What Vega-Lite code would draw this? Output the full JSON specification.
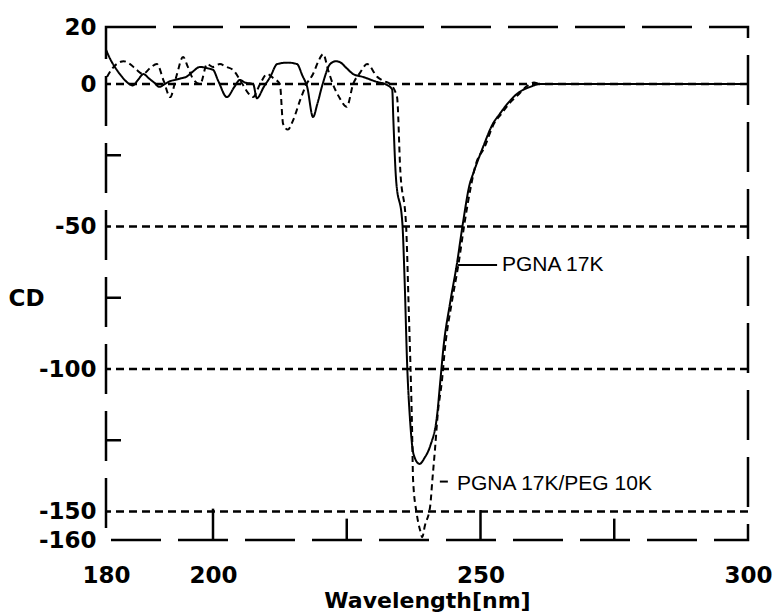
{
  "$schema": "https://vega.github.io/schema/vega-lite/v6.json",
  "width": 642,
  "height": 513,
  "autosize": {"type": "none"},
  "padding": {"left": 106, "top": 27, "right": 25, "bottom": 74},
  "background": "white",
  "config": {
    "view": {"stroke": "black", "strokeWidth": 2.5, "strokeDash": [50, 17]},
    "font": "DejaVu Sans"
  },
  "datasets": {
    "curves": [
      {"wavelength": 180, "cd": 12, "series": "PGNA 17K"},
      {"wavelength": 181, "cd": 8, "series": "PGNA 17K"},
      {"wavelength": 182, "cd": 5, "series": "PGNA 17K"},
      {"wavelength": 183, "cd": 2.5, "series": "PGNA 17K"},
      {"wavelength": 184, "cd": 0.5, "series": "PGNA 17K"},
      {"wavelength": 185, "cd": -0.5, "series": "PGNA 17K"},
      {"wavelength": 186, "cd": 1.5, "series": "PGNA 17K"},
      {"wavelength": 187, "cd": 3.5, "series": "PGNA 17K"},
      {"wavelength": 188, "cd": 2, "series": "PGNA 17K"},
      {"wavelength": 189, "cd": 0.5, "series": "PGNA 17K"},
      {"wavelength": 190, "cd": -1, "series": "PGNA 17K"},
      {"wavelength": 191, "cd": 0, "series": "PGNA 17K"},
      {"wavelength": 192, "cd": 1, "series": "PGNA 17K"},
      {"wavelength": 193, "cd": 1.5, "series": "PGNA 17K"},
      {"wavelength": 194, "cd": 2, "series": "PGNA 17K"},
      {"wavelength": 195, "cd": 2.5, "series": "PGNA 17K"},
      {"wavelength": 196, "cd": 4, "series": "PGNA 17K"},
      {"wavelength": 197.6, "cd": 6, "series": "PGNA 17K"},
      {"wavelength": 199, "cd": 5.5, "series": "PGNA 17K"},
      {"wavelength": 200, "cd": 5, "series": "PGNA 17K"},
      {"wavelength": 201, "cd": 1, "series": "PGNA 17K"},
      {"wavelength": 202.6, "cd": -4.6, "series": "PGNA 17K"},
      {"wavelength": 204, "cd": -1, "series": "PGNA 17K"},
      {"wavelength": 205, "cd": 1.4, "series": "PGNA 17K"},
      {"wavelength": 206, "cd": 0.5, "series": "PGNA 17K"},
      {"wavelength": 207.5, "cd": 0, "series": "PGNA 17K"},
      {"wavelength": 208.2, "cd": -5, "series": "PGNA 17K"},
      {"wavelength": 209.5, "cd": -1, "series": "PGNA 17K"},
      {"wavelength": 210.7, "cd": 2.5, "series": "PGNA 17K"},
      {"wavelength": 212, "cd": 7, "series": "PGNA 17K"},
      {"wavelength": 214, "cd": 7.5, "series": "PGNA 17K"},
      {"wavelength": 215.7, "cd": 7, "series": "PGNA 17K"},
      {"wavelength": 216.7, "cd": 3, "series": "PGNA 17K"},
      {"wavelength": 217.6, "cd": -1, "series": "PGNA 17K"},
      {"wavelength": 218.7, "cd": -11.6, "series": "PGNA 17K"},
      {"wavelength": 219.5, "cd": -7, "series": "PGNA 17K"},
      {"wavelength": 220.5, "cd": 0, "series": "PGNA 17K"},
      {"wavelength": 221.9, "cd": 7, "series": "PGNA 17K"},
      {"wavelength": 223, "cd": 8, "series": "PGNA 17K"},
      {"wavelength": 223.7, "cd": 7.7, "series": "PGNA 17K"},
      {"wavelength": 225, "cd": 5.5, "series": "PGNA 17K"},
      {"wavelength": 226.2, "cd": 3.5, "series": "PGNA 17K"},
      {"wavelength": 228, "cd": 2.5, "series": "PGNA 17K"},
      {"wavelength": 230.7, "cd": 0.7, "series": "PGNA 17K"},
      {"wavelength": 232.5, "cd": -0.3, "series": "PGNA 17K"},
      {"wavelength": 233.5, "cd": -2, "series": "PGNA 17K"},
      {"wavelength": 233.7, "cd": -12, "series": "PGNA 17K"},
      {"wavelength": 234.2, "cd": -33, "series": "PGNA 17K"},
      {"wavelength": 235.4, "cd": -49, "series": "PGNA 17K"},
      {"wavelength": 235.8, "cd": -68, "series": "PGNA 17K"},
      {"wavelength": 236.3, "cd": -99, "series": "PGNA 17K"},
      {"wavelength": 236.8, "cd": -117, "series": "PGNA 17K"},
      {"wavelength": 237.5, "cd": -130, "series": "PGNA 17K"},
      {"wavelength": 238.6, "cd": -133.3, "series": "PGNA 17K"},
      {"wavelength": 239.6, "cd": -131, "series": "PGNA 17K"},
      {"wavelength": 240.6, "cd": -127, "series": "PGNA 17K"},
      {"wavelength": 241.9, "cd": -116, "series": "PGNA 17K"},
      {"wavelength": 242.5, "cd": -104, "series": "PGNA 17K"},
      {"wavelength": 243.1, "cd": -92, "series": "PGNA 17K"},
      {"wavelength": 244.3, "cd": -77, "series": "PGNA 17K"},
      {"wavelength": 245.6, "cd": -63, "series": "PGNA 17K"},
      {"wavelength": 246.7, "cd": -49, "series": "PGNA 17K"},
      {"wavelength": 248, "cd": -35, "series": "PGNA 17K"},
      {"wavelength": 248.6, "cd": -31.6, "series": "PGNA 17K"},
      {"wavelength": 250.5, "cd": -22, "series": "PGNA 17K"},
      {"wavelength": 252.3, "cd": -14, "series": "PGNA 17K"},
      {"wavelength": 253.6, "cd": -10.5, "series": "PGNA 17K"},
      {"wavelength": 255, "cd": -7, "series": "PGNA 17K"},
      {"wavelength": 256.8, "cd": -3.5, "series": "PGNA 17K"},
      {"wavelength": 258, "cd": -2, "series": "PGNA 17K"},
      {"wavelength": 259.3, "cd": -1, "series": "PGNA 17K"},
      {"wavelength": 261, "cd": 0, "series": "PGNA 17K"},
      {"wavelength": 270, "cd": 0, "series": "PGNA 17K"},
      {"wavelength": 280, "cd": 0, "series": "PGNA 17K"},
      {"wavelength": 290, "cd": 0, "series": "PGNA 17K"},
      {"wavelength": 300, "cd": 0, "series": "PGNA 17K"},
      {"wavelength": 180.2, "cd": 2.5, "series": "PGNA 17K/PEG 10K"},
      {"wavelength": 181, "cd": 5, "series": "PGNA 17K/PEG 10K"},
      {"wavelength": 182, "cd": 7, "series": "PGNA 17K/PEG 10K"},
      {"wavelength": 183.3, "cd": 8, "series": "PGNA 17K/PEG 10K"},
      {"wavelength": 184.5, "cd": 7, "series": "PGNA 17K/PEG 10K"},
      {"wavelength": 185.7, "cd": 5, "series": "PGNA 17K/PEG 10K"},
      {"wavelength": 186.9, "cd": 3.5, "series": "PGNA 17K/PEG 10K"},
      {"wavelength": 188.2, "cd": 5.5, "series": "PGNA 17K/PEG 10K"},
      {"wavelength": 189.5, "cd": 7, "series": "PGNA 17K/PEG 10K"},
      {"wavelength": 190.8, "cd": 1, "series": "PGNA 17K/PEG 10K"},
      {"wavelength": 192, "cd": -4.6, "series": "PGNA 17K/PEG 10K"},
      {"wavelength": 193.2, "cd": 3, "series": "PGNA 17K/PEG 10K"},
      {"wavelength": 194.4, "cd": 9.5, "series": "PGNA 17K/PEG 10K"},
      {"wavelength": 195.3, "cd": 6, "series": "PGNA 17K/PEG 10K"},
      {"wavelength": 196.2, "cd": 2, "series": "PGNA 17K/PEG 10K"},
      {"wavelength": 197.6, "cd": 0, "series": "PGNA 17K/PEG 10K"},
      {"wavelength": 198.9, "cd": 7, "series": "PGNA 17K/PEG 10K"},
      {"wavelength": 200, "cd": 6, "series": "PGNA 17K/PEG 10K"},
      {"wavelength": 201.3, "cd": 7, "series": "PGNA 17K/PEG 10K"},
      {"wavelength": 202.5, "cd": 6, "series": "PGNA 17K/PEG 10K"},
      {"wavelength": 203.7, "cd": 5, "series": "PGNA 17K/PEG 10K"},
      {"wavelength": 205.5, "cd": 0, "series": "PGNA 17K/PEG 10K"},
      {"wavelength": 206.5, "cd": -3, "series": "PGNA 17K/PEG 10K"},
      {"wavelength": 207.5, "cd": -4.6, "series": "PGNA 17K/PEG 10K"},
      {"wavelength": 208.8, "cd": 0, "series": "PGNA 17K/PEG 10K"},
      {"wavelength": 210.1, "cd": 3.5, "series": "PGNA 17K/PEG 10K"},
      {"wavelength": 211.3, "cd": 2, "series": "PGNA 17K/PEG 10K"},
      {"wavelength": 212.5, "cd": 0, "series": "PGNA 17K/PEG 10K"},
      {"wavelength": 213.1, "cd": -14, "series": "PGNA 17K/PEG 10K"},
      {"wavelength": 214, "cd": -16, "series": "PGNA 17K/PEG 10K"},
      {"wavelength": 215, "cd": -12.6, "series": "PGNA 17K/PEG 10K"},
      {"wavelength": 216.3, "cd": -5.6, "series": "PGNA 17K/PEG 10K"},
      {"wavelength": 217.5, "cd": 0, "series": "PGNA 17K/PEG 10K"},
      {"wavelength": 218.7, "cd": 3.5, "series": "PGNA 17K/PEG 10K"},
      {"wavelength": 219.7, "cd": 8, "series": "PGNA 17K/PEG 10K"},
      {"wavelength": 220.6, "cd": 10.5, "series": "PGNA 17K/PEG 10K"},
      {"wavelength": 221.5, "cd": 5, "series": "PGNA 17K/PEG 10K"},
      {"wavelength": 222.4, "cd": 0, "series": "PGNA 17K/PEG 10K"},
      {"wavelength": 223.7, "cd": -5, "series": "PGNA 17K/PEG 10K"},
      {"wavelength": 225, "cd": -8, "series": "PGNA 17K/PEG 10K"},
      {"wavelength": 226.2, "cd": 0, "series": "PGNA 17K/PEG 10K"},
      {"wavelength": 227.5, "cd": 4, "series": "PGNA 17K/PEG 10K"},
      {"wavelength": 228.8, "cd": 7, "series": "PGNA 17K/PEG 10K"},
      {"wavelength": 230.7, "cd": 2.5, "series": "PGNA 17K/PEG 10K"},
      {"wavelength": 232, "cd": 1, "series": "PGNA 17K/PEG 10K"},
      {"wavelength": 233.1, "cd": 0, "series": "PGNA 17K/PEG 10K"},
      {"wavelength": 234.4, "cd": -4.6, "series": "PGNA 17K/PEG 10K"},
      {"wavelength": 235, "cd": -30, "series": "PGNA 17K/PEG 10K"},
      {"wavelength": 236.1, "cd": -50, "series": "PGNA 17K/PEG 10K"},
      {"wavelength": 236.6, "cd": -80, "series": "PGNA 17K/PEG 10K"},
      {"wavelength": 237, "cd": -105, "series": "PGNA 17K/PEG 10K"},
      {"wavelength": 237.2, "cd": -120, "series": "PGNA 17K/PEG 10K"},
      {"wavelength": 237.4, "cd": -139, "series": "PGNA 17K/PEG 10K"},
      {"wavelength": 238.1, "cd": -151, "series": "PGNA 17K/PEG 10K"},
      {"wavelength": 238.7, "cd": -156.5, "series": "PGNA 17K/PEG 10K"},
      {"wavelength": 239.1, "cd": -159, "series": "PGNA 17K/PEG 10K"},
      {"wavelength": 239.6, "cd": -155, "series": "PGNA 17K/PEG 10K"},
      {"wavelength": 240.6, "cd": -148, "series": "PGNA 17K/PEG 10K"},
      {"wavelength": 241, "cd": -139, "series": "PGNA 17K/PEG 10K"},
      {"wavelength": 241.5, "cd": -128, "series": "PGNA 17K/PEG 10K"},
      {"wavelength": 242, "cd": -116, "series": "PGNA 17K/PEG 10K"},
      {"wavelength": 242.8, "cd": -104, "series": "PGNA 17K/PEG 10K"},
      {"wavelength": 243.4, "cd": -92, "series": "PGNA 17K/PEG 10K"},
      {"wavelength": 244.6, "cd": -77, "series": "PGNA 17K/PEG 10K"},
      {"wavelength": 245.9, "cd": -63, "series": "PGNA 17K/PEG 10K"},
      {"wavelength": 247, "cd": -49, "series": "PGNA 17K/PEG 10K"},
      {"wavelength": 248.3, "cd": -35, "series": "PGNA 17K/PEG 10K"},
      {"wavelength": 249, "cd": -29, "series": "PGNA 17K/PEG 10K"},
      {"wavelength": 250.8, "cd": -22, "series": "PGNA 17K/PEG 10K"},
      {"wavelength": 252.5, "cd": -14, "series": "PGNA 17K/PEG 10K"},
      {"wavelength": 253.9, "cd": -10.5, "series": "PGNA 17K/PEG 10K"},
      {"wavelength": 255.3, "cd": -7, "series": "PGNA 17K/PEG 10K"},
      {"wavelength": 257.2, "cd": -3.5, "series": "PGNA 17K/PEG 10K"},
      {"wavelength": 258.5, "cd": -1, "series": "PGNA 17K/PEG 10K"},
      {"wavelength": 260, "cd": 0.5, "series": "PGNA 17K/PEG 10K"},
      {"wavelength": 261, "cd": 0, "series": "PGNA 17K/PEG 10K"},
      {"wavelength": 280, "cd": 0, "series": "PGNA 17K/PEG 10K"},
      {"wavelength": 300, "cd": 0, "series": "PGNA 17K/PEG 10K"}
    ],
    "grid": [{"cd": 0}, {"cd": -50}, {"cd": -100}, {"cd": -150}],
    "xticks": [
      {"wavelength": 200, "from": -160, "to": -149},
      {"wavelength": 225, "from": -160, "to": -152.5},
      {"wavelength": 250, "from": -160, "to": -149.5},
      {"wavelength": 275, "from": -160, "to": -152.5}
    ],
    "yticks": [
      {"cd": -25, "from": 180, "to": 182.8},
      {"cd": -75, "from": 180, "to": 182.8},
      {"cd": -125, "from": 180, "to": 182.8}
    ],
    "leaders": [
      {"cd": -63.5, "from": 245.8, "to": 253.1},
      {"cd": -139.5, "from": 242.4, "to": 243.9}
    ],
    "labels": [
      {"label": "PGNA 17K", "wavelength": 254, "cd": -63.5},
      {"label": "PGNA 17K/PEG 10K", "wavelength": 245.6, "cd": -140.4}
    ]
  },
  "layer": [
    {
      "data": {"name": "grid"},
      "mark": {"type": "rule", "color": "black", "strokeWidth": 2.5, "strokeDash": [8, 5]},
      "encoding": {
        "y": {
          "field": "cd",
          "type": "quantitative",
          "scale": {"domain": [-160, 20], "nice": false, "zero": false},
          "axis": {
            "values": [20, 0, -50, -100, -150, -160],
            "labelExpr": "'' + datum.value",
            "domain": false,
            "ticks": false,
            "grid": false,
            "labelFont": "DejaVu Sans",
            "labelFontWeight": "bold",
            "labelFontSize": 23,
            "labelColor": "black",
            "labelPadding": 10,
            "labelOverlap": false,
            "labelBound": false,
            "labelFlush": false,
            "title": "CD",
            "titleAngle": 0,
            "titleFont": "DejaVu Sans",
            "titleFontWeight": "bold",
            "titleFontSize": 23,
            "titleColor": "black",
            "titleAlign": "left",
            "titleBaseline": "middle",
            "titleX": -98,
            "titleY": 271
          }
        }
      }
    },
    {
      "data": {"name": "xticks"},
      "mark": {"type": "rule", "color": "black", "strokeWidth": 2.5},
      "encoding": {
        "x": {
          "field": "wavelength",
          "type": "quantitative",
          "scale": {"domain": [180, 300], "nice": false, "zero": false},
          "axis": {
            "values": [180, 200, 250, 300],
            "domain": false,
            "ticks": false,
            "grid": false,
            "labelFont": "DejaVu Sans",
            "labelFontWeight": "bold",
            "labelFontSize": 23,
            "labelColor": "black",
            "labelBaseline": "alphabetic",
            "labelPadding": 42,
            "labelOverlap": false,
            "labelBound": false,
            "labelFlush": false,
            "title": "Wavelength[nm]",
            "titleFont": "DejaVu Sans",
            "titleFontWeight": "bold",
            "titleFontSize": 22,
            "titleColor": "black",
            "titleBaseline": "alphabetic",
            "titleY": 67
          }
        },
        "y": {"field": "from", "type": "quantitative"},
        "y2": {"field": "to"}
      }
    },
    {
      "data": {"name": "yticks"},
      "mark": {"type": "rule", "color": "black", "strokeWidth": 2.5},
      "encoding": {
        "y": {"field": "cd", "type": "quantitative"},
        "x": {"field": "from", "type": "quantitative"},
        "x2": {"field": "to"}
      }
    },
    {
      "data": {"name": "curves"},
      "mark": {"type": "line", "color": "black", "strokeWidth": 2, "interpolate": "monotone"},
      "encoding": {
        "x": {"field": "wavelength", "type": "quantitative"},
        "y": {"field": "cd", "type": "quantitative"},
        "strokeDash": {
          "field": "series",
          "type": "nominal",
          "scale": {"domain": ["PGNA 17K", "PGNA 17K/PEG 10K"], "range": [[1, 0], [6, 4]]},
          "legend": null
        },
        "order": {"field": "wavelength", "type": "quantitative"}
      }
    },
    {
      "data": {"name": "leaders"},
      "mark": {"type": "rule", "color": "black", "strokeWidth": 2},
      "encoding": {
        "y": {"field": "cd", "type": "quantitative"},
        "x": {"field": "from", "type": "quantitative"},
        "x2": {"field": "to"}
      }
    },
    {
      "data": {"name": "labels"},
      "mark": {"type": "text", "align": "left", "baseline": "middle", "font": "Liberation Sans", "fontSize": 21, "color": "black"},
      "encoding": {
        "x": {"field": "wavelength", "type": "quantitative"},
        "y": {"field": "cd", "type": "quantitative"},
        "text": {"field": "label"}
      }
    }
  ]
}
